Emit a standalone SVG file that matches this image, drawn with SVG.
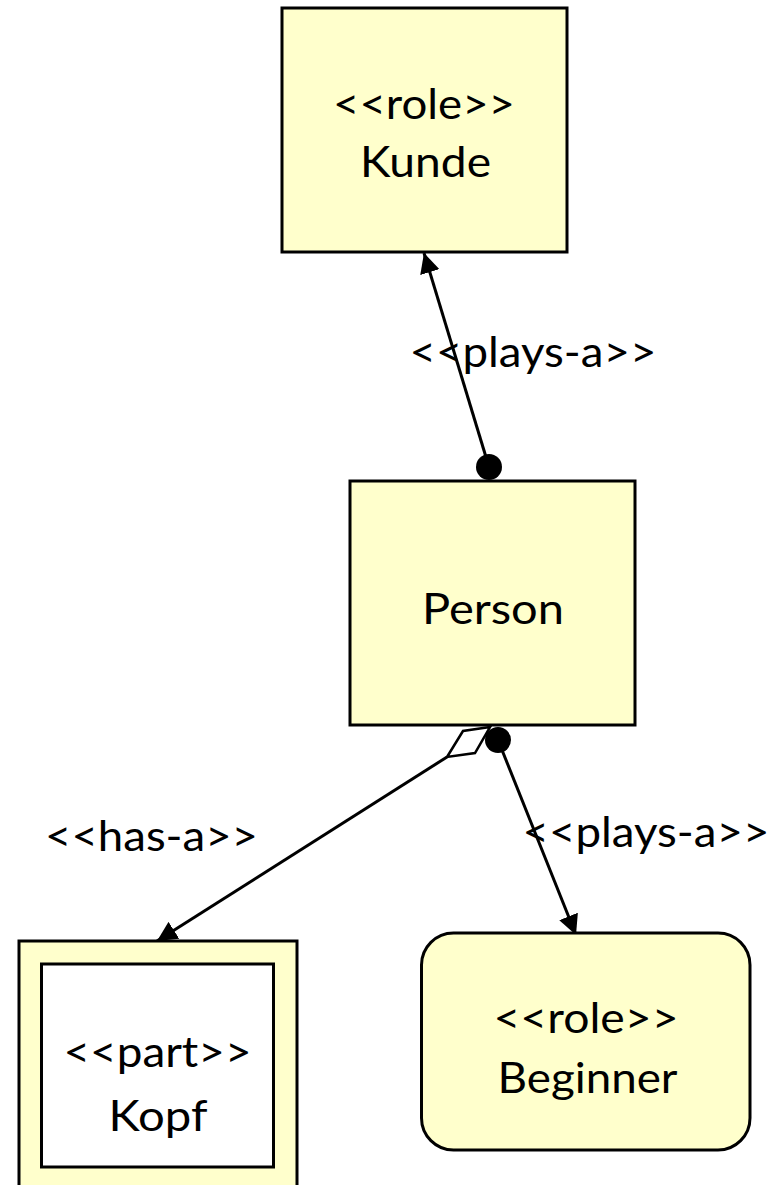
<svg xmlns="http://www.w3.org/2000/svg" width="775" height="1185" viewBox="0 0 775 1185">
<style>
.box{fill:#FFFFCC;stroke:#000;stroke-width:3}
.inner{fill:#FFFFFF;stroke:#000;stroke-width:3}
.t{font-family:Lato,"Liberation Sans",sans-serif;font-size:42px;fill:#000;text-anchor:middle}
.e{stroke:#000;stroke-width:3;fill:none}
</style>
<defs>
<marker id="arr" viewBox="0 0 20 20" refX="20" refY="10" markerWidth="20" markerHeight="20" markerUnits="userSpaceOnUse" orient="auto">
<path d="M0,0 L20,10 L0,20 z" fill="#000"/>
</marker>
</defs>
<rect width="775" height="1185" fill="#fff"/>
<g id="connectors">
<g id="e1">
<line class="e" x1="489" y1="467" x2="424" y2="253" marker-end="url(#arr)"/>
<circle cx="489" cy="467" r="13" fill="#000"/>
<text class="t" x="533" y="367" textLength="247" lengthAdjust="spacingAndGlyphs">&lt;&lt;plays-a&gt;&gt;</text>
</g>
<g id="e2">
<line class="e" x1="447" y1="757" x2="157" y2="941" marker-end="url(#arr)"/>
<polygon points="490,727 463,731 447,757 475,753" fill="#fff" stroke="#000" stroke-width="2.5"/>
<text class="t" x="151.5" y="851" textLength="213" lengthAdjust="spacingAndGlyphs">&lt;&lt;has-a&gt;&gt;</text>
</g>
<g id="e3">
<line class="e" x1="498" y1="740" x2="576" y2="935" marker-end="url(#arr)"/>
<circle cx="498" cy="740" r="13" fill="#000"/>
<text class="t" x="646" y="847" textLength="247" lengthAdjust="spacingAndGlyphs">&lt;&lt;plays-a&gt;&gt;</text>
</g>
</g>
<g id="kunde">
<rect class="box" x="282" y="8" width="285" height="244"/>
<text class="t" x="424" y="119" textLength="182" lengthAdjust="spacingAndGlyphs">&lt;&lt;role&gt;&gt;</text>
<text class="t" x="425.5" y="177" textLength="131" lengthAdjust="spacingAndGlyphs">Kunde</text>
</g>
<g id="person">
<rect class="box" x="350" y="481" width="285" height="244"/>
<text class="t" x="493" y="624" textLength="142" lengthAdjust="spacingAndGlyphs">Person</text>
</g>
<g id="kopf">
<rect class="box" x="19" y="941" width="278" height="260"/>
<rect class="inner" x="41.5" y="964" width="232" height="203"/>
<text class="t" x="157.5" y="1067" textLength="188" lengthAdjust="spacingAndGlyphs">&lt;&lt;part&gt;&gt;</text>
<text class="t" x="158" y="1131" textLength="99" lengthAdjust="spacingAndGlyphs">Kopf</text>
</g>
<g id="beginner">
<rect class="box" x="421.5" y="933" width="328.5" height="217" rx="32" ry="32"/>
<text class="t" x="586" y="1033" textLength="185" lengthAdjust="spacingAndGlyphs">&lt;&lt;role&gt;&gt;</text>
<text class="t" x="587.5" y="1093" textLength="180" lengthAdjust="spacingAndGlyphs">Beginner</text>
</g>
</svg>
